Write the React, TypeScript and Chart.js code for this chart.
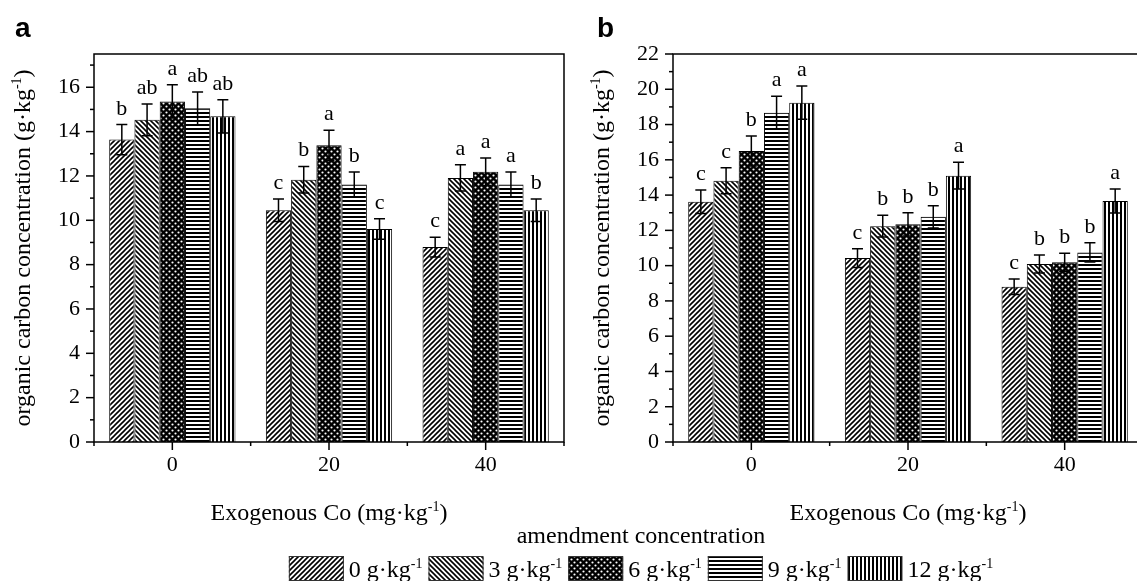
import React, { useEffect, useRef } from 'react';
import { Chart, registerables } from 'chart.js';
Chart.register(...registerables);

const SERIF = "'Liberation Serif', 'Times New Roman', serif";
const SANS = "'Liberation Sans', Arial, sans-serif";

// ---- data ----
const categories = ['0', '20', '40'];
const amendmentLevels = ['0', '3', '6', '9', '12'];

// panel a: means per amendment level (rows) for Co = 0, 20, 40
const panelAMeans = [
  [13.64, 10.45, 8.79],
  [14.53, 11.83, 11.91],
  [15.36, 13.38, 12.19],
  [15.05, 11.61, 11.61],
  [14.69, 9.61, 10.45],
];
const panelAErrors = [
  [0.68, 0.51, 0.45],
  [0.72, 0.6, 0.59],
  [0.75, 0.68, 0.62],
  [0.74, 0.57, 0.57],
  [0.75, 0.46, 0.51],
];
const panelALetters = [
  ['b', 'c', 'c'],
  ['ab', 'b', 'a'],
  ['a', 'a', 'a'],
  ['ab', 'b', 'a'],
  ['ab', 'c', 'b'],
];

// panel b
const panelBMeans = [
  [13.62, 10.43, 8.8],
  [14.81, 12.24, 10.09],
  [16.5, 12.34, 10.19],
  [18.67, 12.77, 10.75],
  [19.24, 15.1, 13.66],
];
const panelBErrors = [
  [0.67, 0.53, 0.44],
  [0.74, 0.61, 0.51],
  [0.85, 0.66, 0.51],
  [0.94, 0.63, 0.55],
  [0.94, 0.76, 0.68],
];
const panelBLetters = [
  ['c', 'c', 'c'],
  ['c', 'b', 'b'],
  ['b', 'b', 'b'],
  ['a', 'b', 'b'],
  ['a', 'a', 'a'],
];

const panelAMax = 17.5;
const panelBMax = 22;

type Part = { t: string; sup?: boolean };

const yTitleParts: Part[] = [{ t: 'organic carbon concentration (g·kg' }, { t: '-1', sup: true }, { t: ')' }];
const xTitleParts: Part[] = [{ t: 'Exogenous Co (mg·kg' }, { t: '-1', sup: true }, { t: ')' }];
const legendTitle = 'amendment concentration';

function partsWidth(ctx: CanvasRenderingContext2D, parts: Part[], size: number) {
  let w = 0;
  for (const p of parts) {
    ctx.font = `${p.sup ? Math.round(size * 0.6) : size}px ${SERIF}`;
    w += ctx.measureText(p.t).width;
  }
  return w;
}

function drawRich(ctx: CanvasRenderingContext2D, parts: Part[], x: number, y: number, size: number, align: 'left' | 'center') {
  const w = partsWidth(ctx, parts, size);
  let cx = align === 'center' ? x - w / 2 : x;
  ctx.textAlign = 'left';
  ctx.textBaseline = 'alphabetic';
  ctx.fillStyle = '#000';
  for (const p of parts) {
    ctx.font = `${p.sup ? Math.round(size * 0.6) : size}px ${SERIF}`;
    ctx.fillText(p.t, cx, p.sup ? y - size * 0.38 : y);
    cx += ctx.measureText(p.t).width;
  }
  return w;
}

function makePatterns(): CanvasPattern[] {
  const mk = (w: number, h: number, draw: (g: CanvasRenderingContext2D) => void) => {
    const c = document.createElement('canvas');
    c.width = w;
    c.height = h;
    const g = c.getContext('2d')!;
    draw(g);
    const p = g.createPattern(c, 'repeat')!;
    return p;
  };
  const fwd = mk(5, 5, (g) => {
    g.fillStyle = '#fff';
    g.fillRect(0, 0, 5, 5);
    g.strokeStyle = '#000';
    g.lineWidth = 1.6;
    g.beginPath();
    g.moveTo(-1, 6); g.lineTo(6, -1);
    g.moveTo(-1, 1); g.lineTo(1, -1);
    g.moveTo(4, 6); g.lineTo(6, 4);
    g.stroke();
  });
  const back = mk(5, 5, (g) => {
    g.fillStyle = '#fff';
    g.fillRect(0, 0, 5, 5);
    g.strokeStyle = '#000';
    g.lineWidth = 1.6;
    g.beginPath();
    g.moveTo(-1, -1); g.lineTo(6, 6);
    g.moveTo(4, -1); g.lineTo(6, 1);
    g.moveTo(-1, 4); g.lineTo(1, 6);
    g.stroke();
  });
  const dots = mk(6, 6, (g) => {
    g.fillStyle = '#000';
    g.fillRect(0, 0, 6, 6);
    g.fillStyle = '#fff';
    g.beginPath();
    g.arc(1.5, 1.5, 1.1, 0, Math.PI * 2);
    g.arc(4.5, 4.5, 1.1, 0, Math.PI * 2);
    g.fill();
  });
  const horiz = mk(4, 4, (g) => {
    g.fillStyle = '#fff';
    g.fillRect(0, 0, 4, 4);
    g.fillStyle = '#000';
    g.fillRect(0, 0, 4, 2);
  });
  const vert = mk(4, 4, (g) => {
    g.fillStyle = '#fff';
    g.fillRect(0, 0, 4, 4);
    g.fillStyle = '#000';
    g.fillRect(0, 0, 2, 4);
  });
  return [fwd, back, dots, horiz, vert];
}

type DecorCfg = {
  yMax: number;
  errors: number[][];
  letters: string[][];
  panelLabel: string;
  panelLabelX: number;
  yTitleX: number;
  legend?: boolean;
};

function makeDecor(cfg: DecorCfg) {
  return {
    id: 'decor',
    afterDatasetsDraw(chart: any) {
      const ctx: CanvasRenderingContext2D = chart.ctx;
      const ca = chart.chartArea;
      const ys = chart.scales.y;
      const xs = chart.scales.x;
      ctx.save();
      ctx.strokeStyle = '#000';
      ctx.lineWidth = 1.5;
      // error bars and letters
      chart.data.datasets.forEach((ds: any, i: number) => {
        const meta = chart.getDatasetMeta(i);
        meta.data.forEach((bar: any, j: number) => {
          const v = ds.data[j];
          const e = cfg.errors[i][j];
          const x = bar.x;
          const yt = ys.getPixelForValue(v + e);
          const yb = ys.getPixelForValue(v - e);
          ctx.beginPath();
          ctx.moveTo(x, yt); ctx.lineTo(x, yb);
          ctx.moveTo(x - 5.5, yt); ctx.lineTo(x + 5.5, yt);
          ctx.moveTo(x - 5.5, yb); ctx.lineTo(x + 5.5, yb);
          ctx.stroke();
          ctx.fillStyle = '#000';
          ctx.font = `22px ${SERIF}`;
          ctx.textAlign = 'center';
          ctx.textBaseline = 'alphabetic';
          ctx.fillText(cfg.letters[i][j], x, yt - 10);
        });
      });
      // frame
      ctx.lineWidth = 1.5;
      ctx.beginPath();
      ctx.rect(ca.left, ca.top, ca.right - ca.left, ca.bottom - ca.top);
      ctx.stroke();
      // y ticks (major every 2, minor every 1)
      for (let v = 0; v <= cfg.yMax + 1e-9; v += 1) {
        const py = ys.getPixelForValue(v);
        const len = v % 2 === 0 ? 8 : 4;
        ctx.beginPath();
        ctx.moveTo(ca.left - len, py);
        ctx.lineTo(ca.left, py);
        ctx.stroke();
      }
      // x ticks
      const n = categories.length;
      const cw = (ca.right - ca.left) / n;
      for (let k = 0; k <= n; k++) {
        const px = ca.left + k * cw;
        ctx.beginPath();
        ctx.moveTo(px, ca.bottom);
        ctx.lineTo(px, ca.bottom + 4);
        ctx.stroke();
      }
      for (let k = 0; k < n; k++) {
        const px = xs.getPixelForValue(k);
        ctx.beginPath();
        ctx.moveTo(px, ca.bottom);
        ctx.lineTo(px, ca.bottom + 8);
        ctx.stroke();
      }
      // axis titles
      drawRich(ctx, xTitleParts, (ca.left + ca.right) / 2, 520, 24, 'center');
      ctx.save();
      ctx.translate(cfg.yTitleX, (ca.top + ca.bottom) / 2);
      ctx.rotate(-Math.PI / 2);
      drawRich(ctx, yTitleParts, 0, 0, 24, 'center');
      ctx.restore();
      // panel label
      ctx.fillStyle = '#000';
      ctx.font = `bold 28px ${SANS}`;
      ctx.textAlign = 'left';
      ctx.textBaseline = 'alphabetic';
      ctx.fillText(cfg.panelLabel, cfg.panelLabelX, 37);

      // shared legend
      if (cfg.legend) {
        ctx.font = `24px ${SERIF}`;
        ctx.textAlign = 'center';
        ctx.fillText(legendTitle, 641, 543);
        const sw = 55, sh = 25, gapText = 5, gapItem = 6, size = 24;
        const items = chart.data.datasets.map((ds: any) => [{ t: ds.label }, { t: '-1', sup: true }] as Part[]);
        const widths = items.map((p: Part[]) => partsWidth(ctx, p, size));
        const total = widths.reduce((a: number, w: number) => a + sw + gapText + w, 0) + gapItem * (items.length - 1);
        let lx = 641 - total / 2;
        items.forEach((p: Part[], i: number) => {
          ctx.fillStyle = chart.data.datasets[i].backgroundColor;
          ctx.fillRect(lx, 556, sw, sh);
          ctx.strokeStyle = '#333';
          ctx.lineWidth = 1;
          ctx.strokeRect(lx + 0.5, 556.5, sw - 1, sh - 1);
          drawRich(ctx, p, lx + sw + gapText, 577, size, 'left');
          lx += sw + gapText + widths[i] + gapItem;
        });
      }
      ctx.restore();
    },
  };
}

function buildConfig(means: number[][], yMax: number, patterns: CanvasPattern[], yAxisWidth: number, padRight: number, decor: any) {
  return {
    type: 'bar' as const,
    data: {
      labels: categories,
      datasets: means.map((vals, i) => ({
        label: `${amendmentLevels[i]} g·kg`,
        data: vals,
        backgroundColor: patterns[i],
        borderColor: '#000',
        borderWidth: 1,
        categoryPercentage: 0.806,
        barPercentage: 1.0,
      })),
    },
    options: {
      responsive: false,
      animation: false as const,
      events: [],
      layout: { padding: { left: 0, top: 54, right: padRight, bottom: 581 - 442 - 40 } },
      plugins: { legend: { display: false }, tooltip: { enabled: false }, title: { display: false } },
      scales: {
        x: {
          type: 'category' as const,
          offset: true,
          grid: { display: false, drawTicks: false },
          border: { display: false },
          ticks: { color: '#000', font: { family: SERIF, size: 22 }, padding: 10, maxRotation: 0 },
          afterFit: (s: any) => { s.height = 40; },
        },
        y: {
          type: 'linear' as const,
          min: 0,
          max: yMax,
          grid: { display: false, drawTicks: false },
          border: { display: false },
          ticks: {
            stepSize: 2,
            includeBounds: false,
            color: '#000',
            font: { family: SERIF, size: 22 },
            padding: 14,
            callback: (v: any) => (Number(v) % 2 === 0 ? String(v) : ''),
          },
          afterFit: (s: any) => { s.width = yAxisWidth; },
        },
      },
    },
    plugins: [decor],
  };
}

export default function App() {
  const refA = useRef<HTMLCanvasElement>(null);
  const refB = useRef<HTMLCanvasElement>(null);

  useEffect(() => {
    const patterns = makePatterns();
    const chartA = new Chart(
      refA.current!,
      buildConfig(panelAMeans, panelAMax, patterns, 94, 1137 - 564,
        makeDecor({ yMax: panelAMax, errors: panelAErrors, letters: panelALetters, panelLabel: 'a', panelLabelX: 15, yTitleX: 30, legend: true })) as any
    );
    const chartB = new Chart(
      refB.current!,
      buildConfig(panelBMeans, panelBMax, patterns, 113, 7,
        makeDecor({ yMax: panelBMax, errors: panelBErrors, letters: panelBLetters, panelLabel: 'b', panelLabelX: 37, yTitleX: 49 })) as any
    );
    return () => {
      chartA.destroy();
      chartB.destroy();
    };
  }, []);

  return (
    <div style={{ position: 'fixed', left: 0, top: 0, width: 1137, height: 581, overflow: 'hidden', background: '#fff' }}>
      <canvas ref={refA} width={1137} height={581} style={{ position: 'absolute', left: 0, top: 0, width: 1137, height: 581 }} />
      <canvas ref={refB} width={590} height={581} style={{ position: 'absolute', left: 560, top: 0, width: 590, height: 581 }} />
    </div>
  );
}
